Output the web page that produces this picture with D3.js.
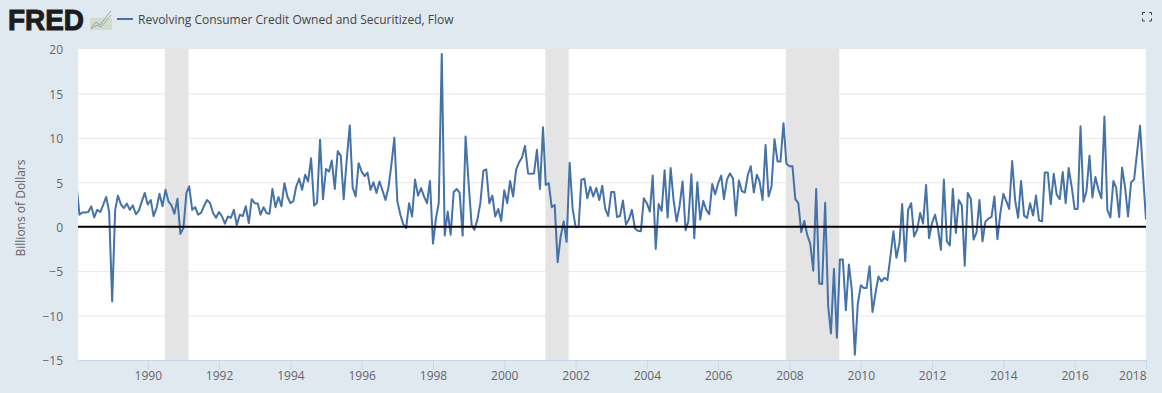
<!DOCTYPE html>
<html>
<head>
<meta charset="utf-8">
<script src="https://cdn.jsdelivr.net/npm/d3@7"></script>
<style>
  html, body { margin: 0; padding: 0; background: #e1e9f0; }
  svg { display: block; font-family: "Open Sans", sans-serif; }
  .grid line { stroke: #e6e6e6; }
  .grid path { display: none; }
  .y_axis path, .y_axis line { display: none; }
  .y_axis text, .x_axis text { fill: #666; font-size: 12px; font-family: "Open Sans", sans-serif; }
  .x_axis path, .x_axis line { stroke: #ccd6eb; }
</style>
</head>
<body>
<svg id="chart" width="1162" height="393"></svg>
<script>
// monthly values, billions of dollars, one row per year from 1988
let flow = [
  4.8,1.35,1.6,1.6,1.65,2.3,1.05,1.9,1.65,2.45,3.35,1.7,
  -8.4,1.9,3.5,2.5,2.1,2.6,1.9,2.4,1.4,1.8,2.85,3.8,
  2.5,3.0,1.2,2.1,3.7,2.3,4.15,2.85,2.4,1.45,3.15,-0.8,
  -0.15,3.8,4.55,1.9,2.2,1.35,1.55,2.35,3.0,2.65,1.55,1.0,
  1.65,1.15,0.35,1.15,1.0,1.9,0.2,1.35,1.2,2.3,0.4,3.1,
  2.65,2.6,1.35,2.2,1.55,1.45,4.25,2.2,3.35,2.3,4.9,3.4,
  2.65,2.9,4.5,5.4,4.15,5.85,5.1,7.7,2.4,2.7,9.8,3.1,
  6.5,6.2,7.45,4.25,8.5,8.0,3.1,7.5,11.4,4.4,3.4,7.15,
  6.2,5.7,6.1,4.15,5.0,3.8,5.1,4.1,3.0,4.35,7.0,10.0,
  2.85,1.35,0.3,-0.15,2.65,1.15,5.3,3.5,4.35,3.4,2.65,5.15,
  -1.9,1.0,2.65,19.45,-1.0,1.7,-0.9,3.9,4.25,3.8,-1.0,10.15,
  4.9,0.2,-0.35,0.8,2.65,6.3,6.45,2.65,3.5,1.15,2.0,0.65,
  4.1,2.65,5.15,3.4,6.4,7.25,7.8,9.1,6.0,5.95,6.0,8.65,
  4.25,11.2,4.7,4.9,2.2,2.45,-4.0,-1.1,0.6,-1.7,7.2,2.1,
  -0.05,0.0,5.3,5.4,3.2,4.5,3.4,4.35,3.0,4.6,2.0,1.2,
  3.9,3.9,1.1,1.2,2.95,0.25,0.8,1.9,-0.2,-0.45,-0.5,3.2,
  2.65,1.7,5.75,-2.5,2.55,1.8,6.35,1.05,6.6,3.0,0.6,2.3,
  5.1,-0.4,0.6,5.9,-1.3,5.0,0.8,2.9,1.9,1.4,4.8,3.65,
  4.9,5.75,3.1,5.3,6.0,5.45,1.25,5.2,4.0,3.85,5.85,6.8,
  3.85,5.85,5.1,3.0,9.2,3.4,4.5,9.85,7.35,7.35,11.65,7.1,
  6.8,6.8,3.1,2.65,-0.6,0.65,-0.9,-1.9,-4.95,4.25,-6.4,-6.45,
  2.7,-8.95,-12.0,-4.75,-12.5,-3.7,-3.7,-9.4,-4.25,-7.1,-14.4,-8.7,
  -6.6,-6.9,-6.9,-4.45,-9.6,-7.45,-5.6,-6.15,-5.75,-6.0,-3.3,-0.5,
  -3.5,-1.85,2.55,-3.9,1.9,2.65,-1.1,-0.35,1.55,0.35,4.7,-1.3,
  0.4,1.35,-0.15,-2.6,5.3,-1.65,-2.1,4.25,-0.7,3.0,2.4,-4.4,
  3.8,3.15,-1.45,-0.65,3.0,-1.65,0.6,0.9,1.1,3.4,-1.4,1.55,
  3.7,2.85,2.0,7.4,3.0,1.0,5.15,1.25,1.0,2.65,1.25,3.5,
  0.7,0.6,6.1,6.1,2.55,5.95,3.6,3.1,6.15,2.65,6.6,4.55,
  2.0,2.0,11.3,2.8,4.0,8.0,3.3,5.6,4.15,3.2,12.4,1.9,
  1.05,5.15,4.4,1.1,6.65,4.4,1.15,5.0,5.3,8.3,11.35,6.0,
  0.8
]
// band edges
let recession_starts = ["1990-06-25", "2001-02-25", "2007-11-25"]
let recession_ends = ["1991-02-22", "2001-10-22", "2009-05-25"]
let x_tick_years = [1990, 1992, 1994, 1996, 1998, 2000, 2002, 2004, 2006, 2008, 2010, 2012, 2014, 2016, 2018]
let y_ticks = [-15, -10, -5, 0, 5, 10, 15, 20]
let title = "Revolving Consumer Credit Owned and Securitized, Flow"
let y_title = "Billions of Dollars"

let line_color = "#4572a7"
let margin = {top: 49, right: 16, bottom: 33, left: 78}
let width = 1162
let height = 393
let parse_day = d3.utcParse("%Y-%m-%d")

function make_series() {
  let dates = d3.utcMonth.range(Date.UTC(1988, 0, 1), Date.UTC(2018, 1, 1))
  return flow.map((value, i) => ({date: dates[i], value: value}))
}

function make_scales() {
  return {
    x: d3.scaleUtc()
      .domain([parse_day("1988-01-17"), parse_day("2018-01-01")])
      .range([margin.left, width - margin.right]),
    y: d3.scaleLinear()
      .domain([-15, 20])
      .range([height - margin.bottom, margin.top])
  }
}

function draw_plot_area(svg, scales) {
  svg.append("rect")
    .attr("x", margin.left)
    .attr("y", margin.top)
    .attr("width", width - margin.left - margin.right)
    .attr("height", height - margin.top - margin.bottom)
    .attr("fill", "#fff")

  svg.append("clipPath")
    .attr("id", "plot_clip")
    .append("rect")
    .attr("x", margin.left)
    .attr("y", margin.top)
    .attr("width", width - margin.left - margin.right)
    .attr("height", height - margin.top - margin.bottom)

  let grid = d3.axisLeft(scales.y)
    .tickValues(y_ticks.filter(d => d != 20 && d != -15))
    .tickSize(-(width - margin.left - margin.right))
    .tickFormat("")
  svg.append("g")
    .attr("class", "grid")
    .attr("transform", `translate(${margin.left}, 0)`)
    .call(grid)
}

function draw_recessions(svg, scales) {
  svg.append("g")
    .selectAll("rect")
    .data(recession_starts).enter()
    .append("rect")
    .attr("x", d => scales.x(parse_day(d)))
    .attr("width", (d, i) => scales.x(parse_day(recession_ends[i])) - scales.x(parse_day(d)))
    .attr("y", margin.top)
    .attr("height", height - margin.top - margin.bottom)
    .attr("fill", "#e4e4e4")
}

function draw_line(svg, scales, series) {
  let path_generator = d3.line()
    .x(d => scales.x(d.date))
    .y(d => scales.y(d.value))

  svg.append("path")
    .datum(series)
    .attr("clip-path", "url(#plot_clip)")
    .attr("fill", "none")
    .attr("stroke", line_color)
    .attr("stroke-width", 2)
    .attr("stroke-linejoin", "round")
    .attr("d", path_generator)

  // zero line sits on top of the series
  svg.append("line")
    .attr("x1", margin.left)
    .attr("x2", width - margin.right)
    .attr("y1", scales.y(0))
    .attr("y2", scales.y(0))
    .attr("stroke", "#000")
    .attr("stroke-width", 2)
}

function draw_axes(svg, scales) {
  let x_axis = d3.axisBottom(scales.x)
    .tickValues(x_tick_years.map(y => new Date(Date.UTC(y, 0, 1))))
    .tickFormat(d3.utcFormat("%Y"))
    .tickSize(10)
    .tickSizeOuter(0)
    .tickPadding(1)
  let x_group = svg.append("g")
    .attr("class", "x_axis")
    .attr("transform", `translate(0, ${height - margin.bottom})`)
    .call(x_axis)
  // last label is pulled inside the chart edge
  x_group.selectAll(".tick").filter(d => d.getUTCFullYear() == 2018)
    .select("text")
    .attr("text-anchor", "end")

  let y_axis = d3.axisLeft(scales.y)
    .tickValues(y_ticks)
    .tickSize(0)
    .tickPadding(15)
  svg.append("g")
    .attr("class", "y_axis")
    .attr("transform", `translate(${margin.left}, 0)`)
    .call(y_axis)
    .selectAll("text")
    .attr("dy", "0.4em")

  svg.append("text")
    .attr("transform", "translate(25, 208) rotate(-90)")
    .attr("text-anchor", "middle")
    .attr("fill", "#666")
    .attr("font-size", 12)
    .text(y_title)
}

function draw_header(svg) {
  // logo
  svg.append("text")
    .attr("x", 8)
    .attr("y", 30)
    .attr("font-family", "'Liberation Sans', sans-serif")
    .attr("font-weight", 700)
    .attr("font-size", 29)
    .attr("textLength", 76)
    .attr("lengthAdjust", "spacingAndGlyphs")
    .attr("fill", "#1c1c1e")
    .attr("stroke", "#1c1c1e")
    .attr("stroke-width", 1)
    .text("FRED")

  svg.append("rect")
    .attr("x", 90).attr("y", 18).attr("width", 22).attr("height", 12)
    .attr("fill", "#d3dad0")
  svg.append("path")
    .attr("d", "M91,28 L96,22 L100,25 L106,17 L111,11")
    .attr("fill", "none").attr("stroke", "#8ba7c0").attr("stroke-width", 1)
  svg.append("path")
    .attr("d", "M91,29 L97,25 L101,27 L106,21 L111,15")
    .attr("fill", "none").attr("stroke", "#9db37c").attr("stroke-width", 1)

  // legend
  svg.append("line")
    .attr("x1", 117).attr("x2", 133)
    .attr("y1", 19).attr("y2", 19)
    .attr("stroke", line_color)
    .attr("stroke-width", 2)
  svg.append("text")
    .attr("x", 138)
    .attr("y", 24)
    .attr("font-size", 12)
    .attr("fill", "#444")
    .text(title)

  // fullscreen icon
  svg.append("path")
    .attr("d", "M1142.5,15 V12.5 H1145 M1149,12.5 H1151.5 V15 M1151.5,18.5 V21 H1149 M1145,21 H1142.5 V18.5")
    .attr("fill", "none")
    .attr("stroke", "#444")
    .attr("stroke-width", 1)
}

function visualize() {
  let svg = d3.select("#chart")
  let series = make_series()
  let scales = make_scales()
  draw_plot_area(svg, scales)
  draw_recessions(svg, scales)
  draw_line(svg, scales, series)
  draw_axes(svg, scales)
  draw_header(svg)
}

visualize()
</script>
</body>
</html>
